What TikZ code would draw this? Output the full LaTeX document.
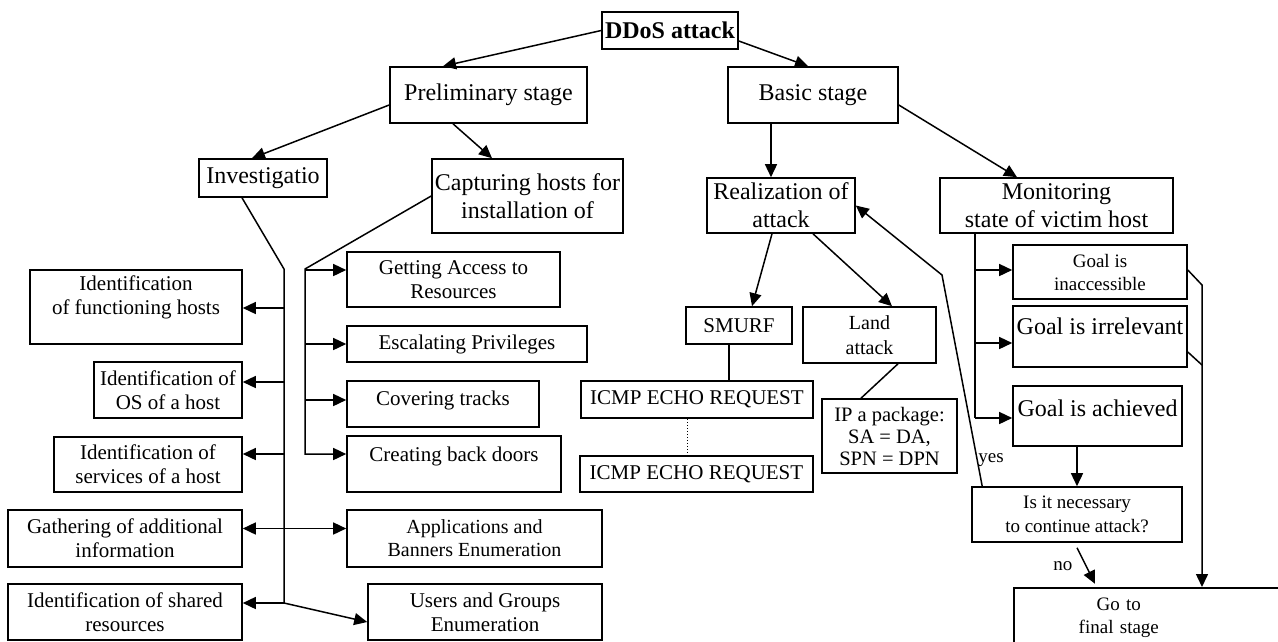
\documentclass[tikz,border=0pt]{standalone}
\usepackage{fontspec}
\setmainfont{Liberation Serif}
\usetikzlibrary{arrows.meta,calc}

\begin{document}
\begin{tikzpicture}[x=1pt,y=-1pt,
bx/.style={draw,line width=1.6pt,inner sep=0pt,align=center,font=\fontsize{21}{24}\selectfont},
big/.style={bx,font=\fontsize{24}{28}\selectfont},
mid/.style={bx,font=\fontsize{19}{23}\selectfont},
lin/.style={line width=1.5pt},
arr/.style={-{Triangle[length=13pt,width=12pt]},line width=1.5pt},
arrb/.style={{Triangle[length=13pt,width=12pt]}-{Triangle[length=13pt,width=12pt]},line width=1.5pt},
lbl/.style={font=\fontsize{19}{21}\selectfont,inner sep=1pt}
]
\useasboundingbox (0,0) rectangle (1278,641);

% top levels
\node[big,minimum width=136pt,minimum height=37pt,font=\bfseries\fontsize{24}{28}\selectfont] (ddos) at (670,30.5) {DDoS attack};
\node[big,minimum width=197pt,minimum height=56pt] (prel) at (488.5,95) {Preliminary stage};
\node[big,minimum width=170pt,minimum height=56pt] (basic) at (813,95) {Basic stage};
\node[big,minimum width=128pt,minimum height=38pt] (inv) at (263,178) {Investigatio};
\node[big,minimum width=191pt,minimum height=74pt] (capt) at (527.5,196) {Capturing hosts for\\installation of};
\node[big,minimum width=148pt,minimum height=55pt] (real) at (781,205.5) {Realization of\\attack};
\node[big,minimum width=233pt,minimum height=55pt] (mon) at (1056.5,205.5) {Monitoring\\state of victim host};

% investigation
\node[bx,minimum width=212pt,minimum height=74pt,text depth=24pt] (ifh) at (136,307) {Identification\\of functioning hosts};
\node[bx,minimum width=148pt,minimum height=56pt] (ios) at (168,390) {Identification of\\OS of a host};
\node[bx,minimum width=188pt,minimum height=55pt] (isv) at (148,464.5) {Identification of\\services of a host};
\node[bx,minimum width=234pt,minimum height=57pt] (gai) at (125,538.5) {Gathering of additional\\information};
\node[bx,minimum width=234pt,minimum height=56pt] (isr) at (125,612) {Identification of shared\\resources};

% capturing hosts
\node[bx,minimum width=213pt,minimum height=55pt] (gar) at (453.5,279.5) {Getting Access to\\Resources};
\node[bx,minimum width=240pt,minimum height=36pt] (esc) at (467,344) {Escalating Privileges};
\node[bx,minimum width=192pt,minimum height=46pt,text depth=12pt] (cov) at (443,404) {Covering tracks};
\node[bx,minimum width=214pt,minimum height=56pt,text depth=19pt] (cbd) at (454,464) {Creating back doors};
\node[bx,minimum width=255pt,minimum height=57pt,font=\fontsize{20}{23}\selectfont] (abe) at (474.5,538.5) {Applications and\\Banners Enumeration};
\node[bx,minimum width=234pt,minimum height=56pt] (uge) at (485,612) {Users and Groups\\Enumeration};

% realization
\node[bx,minimum width=106pt,minimum height=37pt] (smurf) at (739,325.5) {SMURF};
\node[bx,minimum width=133pt,minimum height=56pt,font=\fontsize{20}{25}\selectfont] (land) at (869.5,335) {Land\\attack};
\node[bx,minimum width=232pt,minimum height=37pt] (icmpa) at (697,399.5) {ICMP ECHO REQUEST};
\node[bx,minimum width=233pt,minimum height=36pt] (icmpb) at (696.5,474) {ICMP ECHO REQUEST};
\node[bx,minimum width=135pt,minimum height=74pt,font=\fontsize{20.5}{22}\selectfont] (ipp) at (889.5,436) {IP a package:\\SA = DA,\\SPN = DPN};

% monitoring
\node[mid,minimum width=174pt,minimum height=54pt] (gin) at (1100,272) {Goal is\\inaccessible};
\node[big,minimum width=174pt,minimum height=61pt,text depth=20pt] (gir) at (1100,336.5) {Goal is irrelevant};
\node[big,minimum width=169pt,minimum height=60pt,text depth=15pt] (gac) at (1097.5,416) {Goal is achieved};
\node[mid,minimum width=210pt,minimum height=55pt,font=\fontsize{19}{24}\selectfont] (nec) at (1077,514.5) {Is it necessary\\to continue attack?};
\node[mid,minimum width=277pt,minimum height=60pt,text width=277pt,align=left,anchor=north west] (fin) at (1013,587) {\makebox[210pt]{Go to}\\\makebox[210pt]{final stage}};
\node[lbl] (yes) at (991,460) {yes};

\coordinate (invj) at (284,269);
\coordinate (inve) at (284,603);
\coordinate (capj) at (305,269);
\coordinate (monj) at (975,418);
\coordinate (gja) at (1202,285);
\coordinate (gjb) at (1202,365);
\coordinate (yesj) at (942,275);

\draw[arr] (ddos.west) -- ([xshift=-45.5pt]prel.north);
\draw[arr] ([yshift=-10.5pt]ddos.east) -- ([xshift=-5pt]basic.north);
\draw[arr] ([yshift=-10pt]prel.west) -- ([xshift=-11pt]inv.north);
\draw[arr] ([xshift=-35.5pt]prel.south) -- ([xshift=-35.5pt]capt.north);
\draw[arr] ([xshift=-42pt]basic.south) -- ([xshift=-10pt]real.north);
\draw[arr] ([yshift=-10pt]basic.east) -- ([xshift=-39.5pt]mon.north);

\draw[lin] ([xshift=-21pt]inv.south) -- (invj) -- (inve);
\foreach \n/\dy in {ifh/1,ios/-8,isv/-10.5,isr/-9}
  \draw[arr] ($(invj |- \n.east)+(0,\dy)$) -- ($(\n.east)+(0,\dy)$);
\draw[arr] (inve) -- ($(uge.west)+(0,10)$);
\draw[arrb] ($(gai.east)+(0,-10)$) -- ($(abe.west)+(0,-10)$);

\draw[arr] (capt.west) -- (capj) |- ($(cbd.west)+(0,-10)$);
\foreach \n/\dy in {gar/-9.5,esc/0,cov/-4}
  \draw[arr] ($(capj |- \n.west)+(0,\dy)$) -- ($(\n.west)+(0,\dy)$);

\draw[arr] ([xshift=-9pt]real.south) -- ([xshift=13pt]smurf.north);
\draw[arr] ([xshift=32pt]real.south) -- ([xshift=22.5pt]land.north);
\draw[lin] ([xshift=-10pt]smurf.south) -- ([xshift=32pt]icmpa.north);
\draw[line width=1pt,dotted] ([xshift=-10pt]icmpa.south) -- ([xshift=-9.5pt]icmpb.north);
\draw[lin] ([xshift=28.5pt]land.south) -- ([xshift=-28.5pt]ipp.north);

\draw[lin] (mon.south -| monj) -- (monj);
\foreach \n/\dy in {gin/-2,gir/6.5,gac/2}
  \draw[arr] ($(monj |- \n.west)+(0,\dy)$) -- ($(\n.west)+(0,\dy)$);
\draw[arr] ([yshift=2pt]gin.east) -- (gja) -- (gja |- fin.north);
\draw[lin] ($(gir.east)+(0,15.5)$) -- (gjb);
\draw[arr] (gac.south -| nec.north) -- (nec.north);
\draw[arr] ([yshift=-5pt]nec.south) -- ($(nec.south)+(18,41)$) node[lbl,midway,left=12pt] {no};
\draw[arr] ([xshift=11pt]nec.north west) -- (yesj) -- (real.east);
\end{tikzpicture}
\end{document}
